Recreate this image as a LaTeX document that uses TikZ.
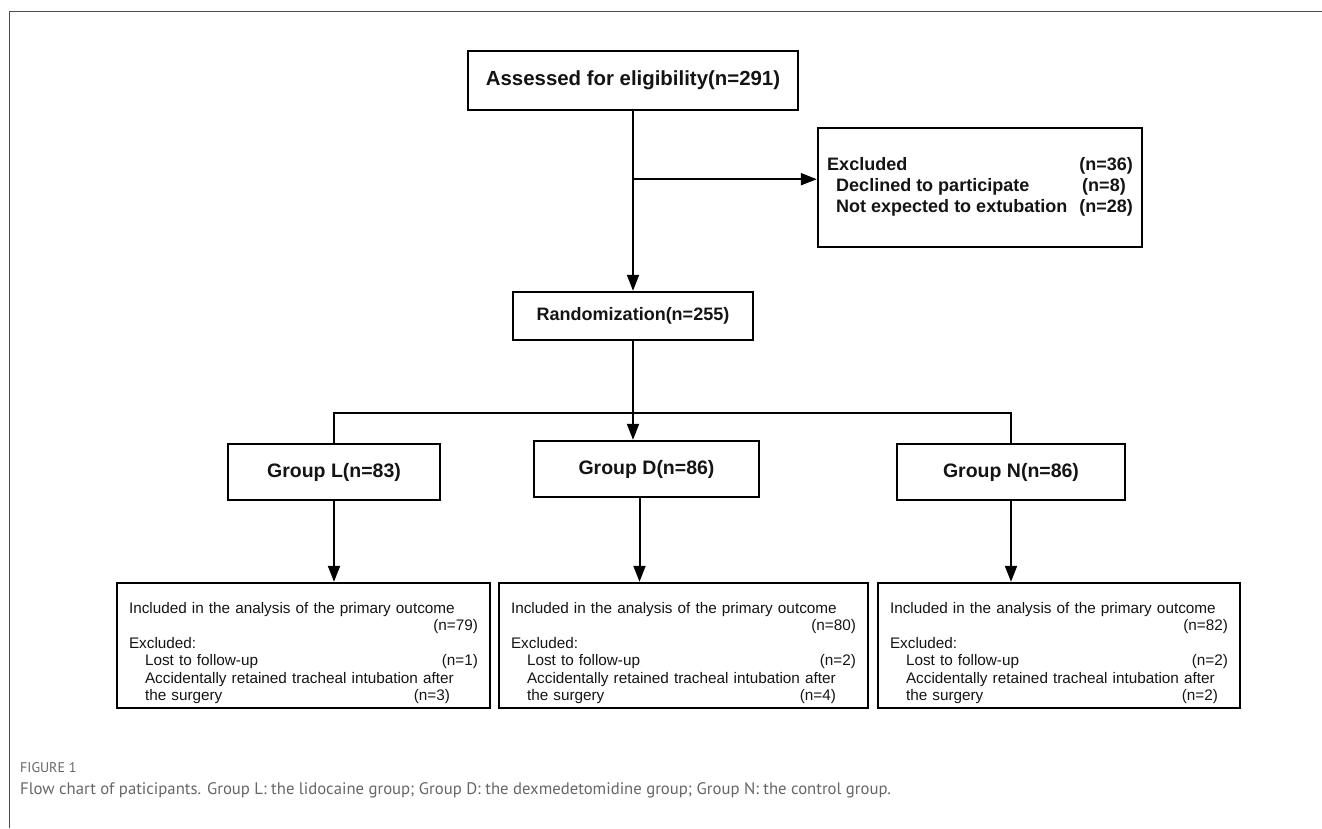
\documentclass[tikz,border=0pt]{standalone}
\usepackage{fontspec}
\setmainfont{Liberation Sans}
\newfontfamily\capfont{PT Sans}
\usetikzlibrary{arrows.meta}
\definecolor{framegray}{HTML}{4D4D4D}
\definecolor{capgray}{HTML}{666666}
\definecolor{inkgray}{HTML}{141414}
\begin{document}
\begin{tikzpicture}[x=1pt, y=-1pt, node distance=160pt]
    \tikzset{
    block/.style={
        rectangle,
        draw,
        line width=2.4pt,
        inner sep=0pt,
        text=inkgray,
        align=center
    },
    groupbox/.style={
        block,
        minimum height=56pt,
        font=\bfseries\fontsize{19.5}{22}\selectfont
    },
    outbox/.style={
        block,
        inner xsep=12pt,
        minimum height=125pt,
        text width=#1,
        align=left,
        font=\fontsize{15.3}{17.5}\selectfont
    },
    arrow/.style={
        -{Triangle[length=16pt,width=12pt]}, line width=2pt
    },
    link/.style={
        line width=2pt
    }
}
    % page and frame
    \useasboundingbox (0,0) rectangle (1322,828);
    \draw[framegray, line width=1.4pt] (9.5,828) -- (9.5,11.5) -- (1322,11.5);

    \node[block, minimum width=330pt, minimum height=59pt, font=\bfseries\fontsize{20.4}{24}\selectfont] (assess) at (633,80.5) {Assessed for eligibility(n=291)};
    \node[block, right of = assess, xshift=187pt, yshift=-107pt, minimum width=324pt, minimum height=119pt, font=\bfseries\fontsize{18}{21}\selectfont] (excl) {%
        \begin{tabular}{@{}l@{\hspace{12pt}}l@{}}
        Excluded & (n=36)\\
        \hspace*{9pt}Declined to participate & \hspace*{3pt}(n=8)\\
        \hspace*{9pt}Not expected to extubation & (n=28)
        \end{tabular}};
    \node[block, below of = assess, yshift=-75.5pt, minimum width=240pt, minimum height=48pt, font=\bfseries\fontsize{18}{22}\selectfont] (rand) {Randomization(n=255)};

    \node[groupbox, below of = rand, xshift=13.5pt, yshift=7pt, minimum width=225pt] (grpD) {Group D(n=86)};
    \node[groupbox, left of = grpD, xshift=-152.5pt, yshift=-3pt, minimum width=212pt] (grpL) {Group L(n=83)};
    \node[groupbox, right of = grpD, xshift=204.5pt, yshift=-3pt, minimum width=228pt] (grpN) {Group N(n=86)};

    \node[outbox=349pt, below of = grpL, xshift=-30.5pt, yshift=-13.5pt] (outL) {%
        \rule{0pt}{26pt}Included in the analysis of the primary outcome\\
        \hspace*{\fill}(n=79)\hspace*{25pt}\\
        Excluded:\\
        \hspace*{16pt}Lost to follow-up\hfill(n=1)\hspace*{28pt}\\
        \hspace*{16pt}Accidentally retained tracheal intubation after\\
        \hspace*{16pt}the surgery\hfill(n=3)\hspace*{28pt}};
    \node[outbox=345pt, below of = grpD, xshift=37pt, yshift=-16.5pt] (outD) {%
        \rule{0pt}{26pt}Included in the analysis of the primary outcome\\
        \hspace*{\fill}(n=80)\hspace*{20pt}\\
        Excluded:\\
        \hspace*{16pt}Lost to follow-up\hfill(n=2)\hspace*{20pt}\\
        \hspace*{16pt}Accidentally retained tracheal intubation after\\
        \hspace*{16pt}the surgery\hfill(n=4)\hspace*{20pt}};
    \node[outbox=338pt, below of = grpN, xshift=48pt, yshift=-13.5pt] (outN) {%
        \rule{0pt}{26pt}Included in the analysis of the primary outcome\\
        \hspace*{\fill}(n=82)\hspace*{8pt}\\
        Excluded:\\
        \hspace*{16pt}Lost to follow-up\hfill(n=2)\hspace*{10pt}\\
        \hspace*{16pt}Accidentally retained tracheal intubation after\\
        \hspace*{16pt}the surgery\hfill(n=2)\hspace*{10pt}};

    % caption
    \node[anchor=west, inner sep=0pt, text=capgray, font=\capfont\fontsize{14}{16}\selectfont] (figno) at (20,768) {FIGURE 1};
    \node[anchor=west, inner sep=0pt, text=capgray, font=\capfont\fontsize{16.7}{20}\selectfont] (caption) at (20,790) {Flow chart of paticipants. Group L: the lidocaine group; Group D: the dexmedetomidine group; Group N: the control group.};

    % Arrows
    \coordinate (split) at ([yshift=-68pt]assess.south);
    \draw[arrow] (assess) -- (rand);
    \draw[arrow] (split) -- (split -| excl.west);
    \draw[link] (grpL.north) |- ([yshift=-72pt]rand.south) -| (grpN.north);
    \draw[arrow] (rand.south) -- (rand.south |- grpD.north);
    \draw[arrow] (grpL.south) -- (grpL.south |- outL.north);
    \draw[arrow] ([xshift=-7pt]grpD.south) -- ([xshift=-7pt]grpD.south |- outD.north);
    \draw[arrow] (grpN.south) -- (grpN.south |- outN.north);
\end{tikzpicture}
\end{document}
